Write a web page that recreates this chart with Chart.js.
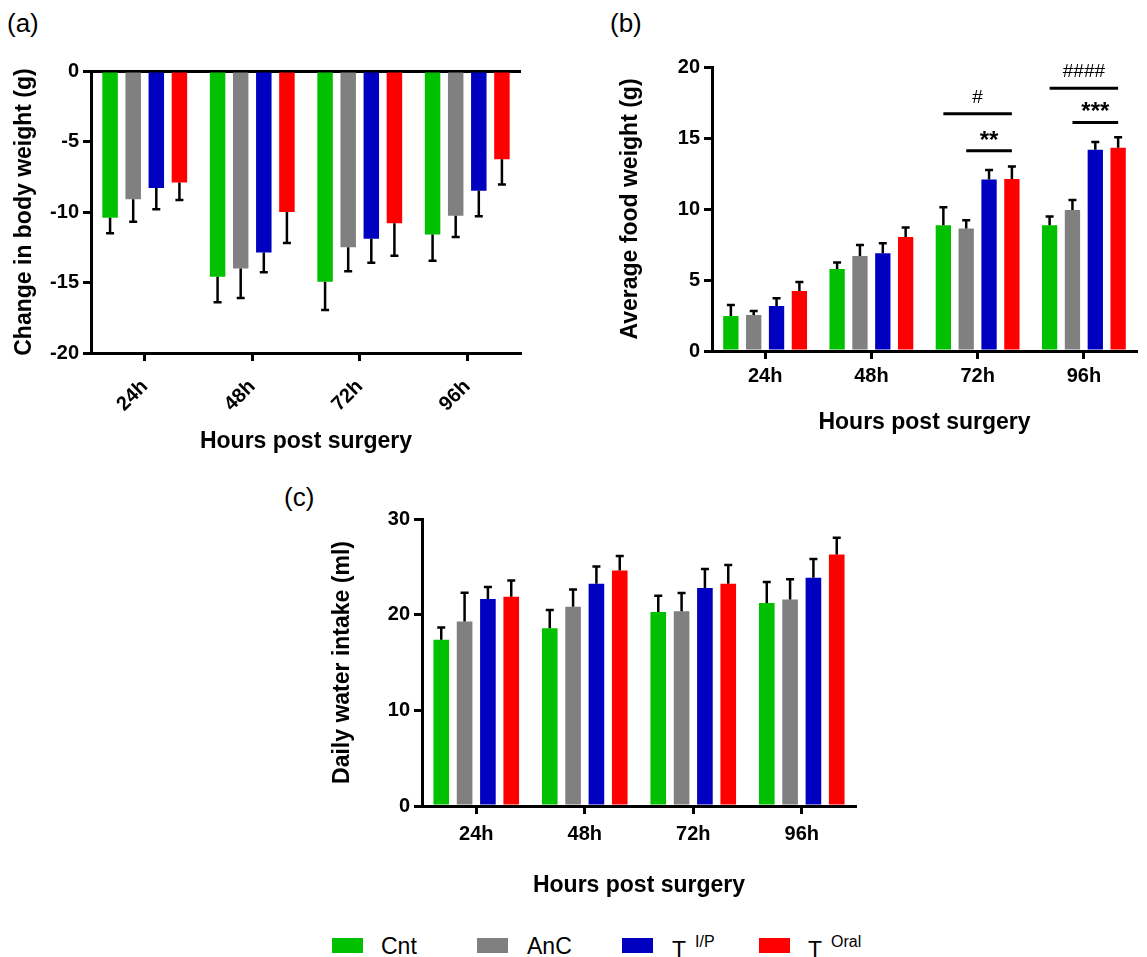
<!DOCTYPE html>
<html>
<head>
<meta charset="utf-8">
<script src="https://cdn.jsdelivr.net/npm/chart.js@4.4.1/dist/chart.umd.min.js"></script>
<style>
    body { margin: 0; background: #fff; }
    #page { position: relative; width: 1147px; height: 957px; overflow: hidden; background: #fff;
            font-family: 'Liberation Sans', Arial, sans-serif; color: #000; }
    canvas { position: absolute; }
    .panel-label { position: absolute; font-size: 26px; line-height: 26px; }
    .legend-box { position: absolute; width: 31px; height: 15px; }
    .legend-text { position: absolute; font-size: 23px; line-height: 23px; white-space: nowrap; }
    .legend-sup { position: absolute; font-size: 16px; line-height: 16px; white-space: nowrap; }
</style>
</head>
<body>
<div id="page">
    <div class="panel-label" style="left:7px; top:10px;">(a)</div>
    <div class="panel-label" style="left:610px; top:10px;">(b)</div>
    <div class="panel-label" style="left:284px; top:484px;">(c)</div>

    <canvas id="weight-chart" width="545" height="460" style="left:0; top:0;"></canvas>
    <canvas id="food-chart" width="547" height="440" style="left:600px; top:0;"></canvas>
    <canvas id="water-chart" width="596" height="432" style="left:280px; top:470px;"></canvas>

    <div id="legend"></div>
</div>

<script>
// categories and groups
const hours = ['24h', '48h', '72h', '96h'];
const groups = ['Cnt', 'AnC', 'T I/P', 'T Oral'];
const colors = ['#00c000', '#808080', '#0000c0', '#ff0000'];

// (a) change in body weight (g)
const weightCnt = [-10.4, -14.6, -14.95, -11.6];
const weightAnC = [-9.1, -14.0, -12.5, -10.27];
const weightTip = [-8.3, -12.87, -11.9, -8.5];
const weightToral = [-7.9, -10.0, -10.8, -6.25];
const weightCntErr = [1.1, 1.8, 2.0, 1.85];
const weightAnCErr = [1.6, 2.1, 1.7, 1.5];
const weightTipErr = [1.5, 1.4, 1.7, 1.8];
const weightToralErr = [1.25, 2.2, 2.3, 1.8];

// (b) average food weight (g)
const foodCnt = [2.46, 5.77, 8.85, 8.85];
const foodAnC = [2.54, 6.69, 8.62, 9.93];
const foodTip = [3.17, 6.88, 12.07, 14.18];
const foodToral = [4.23, 8.03, 12.11, 14.32];
const foodCntErr = [0.78, 0.47, 1.27, 0.63];
const foodAnCErr = [0.28, 0.77, 0.58, 0.7];
const foodTipErr = [0.54, 0.7, 0.68, 0.54];
const foodToralErr = [0.63, 0.66, 0.89, 0.73];

// significance marks on (b)
const sigLabels = ['#', '**', '####', '***'];
const sigHour = [2, 2, 3, 3];
const sigFrom = [0, 1, 0, 1];
const sigTo = [3, 3, 3, 3];
const sigLevel = [16.7, 14.1, 18.5, 16.1];

// (c) daily water intake (ml)
const waterCnt = [17.37, 18.59, 20.27, 21.21];
const waterAnC = [19.29, 20.82, 20.37, 21.59];
const waterTip = [21.63, 23.23, 22.78, 23.86];
const waterToral = [21.87, 24.62, 23.23, 26.3];
const waterCntErr = [1.3, 1.9, 1.7, 2.2];
const waterAnCErr = [3.0, 1.8, 1.9, 2.1];
const waterTipErr = [1.25, 1.8, 2.0, 1.95];
const waterToralErr = [1.7, 1.5, 1.95, 1.75];

Chart.defaults.font.family = "'Liberation Sans', Arial, sans-serif";
Chart.defaults.color = '#000';

const errorBars = {
    id: 'errorBars',
    afterDatasetsDraw(chart) {
        const ctx = chart.ctx;
        const yScale = chart.scales.y;
        ctx.save();
        ctx.strokeStyle = '#000';
        ctx.lineWidth = 2.5;
        chart.data.datasets.forEach((dataset, i) => {
            const meta = chart.getDatasetMeta(i);
            meta.data.forEach((bar, j) => {
                const value = dataset.data[j];
                const err = dataset.errors[j];
                const end = yScale.getPixelForValue(value + Math.sign(value) * err);
                ctx.beginPath();
                ctx.moveTo(bar.x, bar.y);
                ctx.lineTo(bar.x, end);
                ctx.moveTo(bar.x - 4, end);
                ctx.lineTo(bar.x + 4, end);
                ctx.stroke();
            });
        });
        ctx.restore();
    }
};

const significance = {
    id: 'significance',
    afterDraw(chart) {
        if (!chart.options.plugins.significance.show) {
            return;
        }
        const ctx = chart.ctx;
        const yScale = chart.scales.y;
        ctx.save();
        ctx.strokeStyle = '#000';
        ctx.fillStyle = '#000';
        ctx.lineWidth = 3;
        ctx.textAlign = 'center';
        ctx.textBaseline = 'alphabetic';
        sigLabels.forEach((label, k) => {
            const x1 = chart.getDatasetMeta(sigFrom[k]).data[sigHour[k]].x;
            const x2 = chart.getDatasetMeta(sigTo[k]).data[sigHour[k]].x;
            const y = yScale.getPixelForValue(sigLevel[k]);
            ctx.beginPath();
            ctx.moveTo(x1, y);
            ctx.lineTo(x2, y);
            ctx.stroke();
            const isHash = label.startsWith('#');
            ctx.font = isHash ? "19px 'Liberation Sans', Arial, sans-serif"
                              : "bold 24px 'Liberation Sans', Arial, sans-serif";
            ctx.fillText(label, (x1 + x2) / 2, y - (isHash ? 11 : 3));
        });
        ctx.restore();
    }
};

function buildPanel(canvasId, opts) {
    const canvas = document.getElementById(canvasId);
    const g = opts.geometry;
    return new Chart(canvas, {
        type: 'bar',
        data: {
            labels: hours,
            datasets: opts.values.map((values, i) => ({
                label: groups[i],
                data: values,
                errors: opts.errors[i],
                backgroundColor: colors[i],
                borderWidth: 0,
                barPercentage: 0.67,
                categoryPercentage: 0.86
            }))
        },
        options: {
            responsive: false,
            animation: false,
            layout: {
                padding: { top: g.padTop, right: g.padRight, left: 0, bottom: 0 }
            },
            plugins: {
                legend: { display: false },
                tooltip: { enabled: false },
                significance: { show: !!opts.showSignificance }
            },
            scales: {
                x: {
                    grid: {
                        display: true,
                        drawOnChartArea: false,
                        offset: false,
                        tickLength: 8,
                        tickWidth: 3,
                        tickColor: '#000'
                    },
                    border: { display: true, color: '#000', width: 3 },
                    ticks: {
                        color: '#000',
                        font: { size: 20, weight: 'bold' },
                        padding: g.xTickPad,
                        minRotation: opts.rotation,
                        maxRotation: opts.rotation
                    },
                    title: {
                        display: true,
                        text: 'Hours post surgery',
                        color: '#000',
                        font: { size: 23, weight: 'bold' },
                        padding: { top: 0, bottom: g.xTitlePad }
                    },
                    afterFit: scale => { scale.height = g.xAxisHeight; }
                },
                y: {
                    min: opts.yMin,
                    max: opts.yMax,
                    grid: {
                        drawOnChartArea: true,
                        color: ctx => (ctx.tick && ctx.tick.value === 0 ? '#000' : 'rgba(0,0,0,0)'),
                        lineWidth: 3,
                        tickLength: 8,
                        tickWidth: 3,
                        tickColor: '#000'
                    },
                    border: { display: true, color: '#000', width: 3 },
                    ticks: {
                        stepSize: opts.yStep,
                        color: '#000',
                        font: { size: 20, weight: 'bold' },
                        padding: 4
                    },
                    title: {
                        display: true,
                        text: opts.yTitle,
                        color: '#000',
                        font: { size: 23, weight: 'bold' },
                        padding: { top: g.yTitlePad, bottom: 0 }
                    },
                    afterFit: scale => { scale.width = g.yAxisWidth; }
                }
            }
        },
        plugins: [errorBars, significance]
    });
}

buildPanel('weight-chart', {
    values: [weightCnt, weightAnC, weightTip, weightToral],
    errors: [weightCntErr, weightAnCErr, weightTipErr, weightToralErr],
    yMin: -20, yMax: 0, yStep: 5,
    yTitle: 'Change in body weight (g)',
    rotation: 45,
    geometry: { padTop: 71, padRight: 24, yAxisWidth: 91, xAxisHeight: 107, yTitlePad: 11, xTitlePad: 5, xTickPad: 14 }
});

buildPanel('food-chart', {
    values: [foodCnt, foodAnC, foodTip, foodToral],
    errors: [foodCntErr, foodAnCErr, foodTipErr, foodToralErr],
    yMin: 0, yMax: 20, yStep: 5,
    yTitle: 'Average food weight (g)',
    rotation: 0,
    showSignificance: true,
    geometry: { padTop: 67, padRight: 10, yAxisWidth: 112, xAxisHeight: 89, yTitlePad: 17, xTitlePad: 4, xTickPad: 5 }
});

buildPanel('water-chart', {
    values: [waterCnt, waterAnC, waterTip, waterToral],
    errors: [waterCntErr, waterAnCErr, waterTipErr, waterToralErr],
    yMin: 0, yMax: 30, yStep: 10,
    yTitle: 'Daily water intake (ml)',
    rotation: 0,
    geometry: { padTop: 49, padRight: 20, yAxisWidth: 142, xAxisHeight: 96, yTitlePad: 49, xTitlePad: 3, xTickPad: 8 }
});

// legend below the panels (HTML so the superscripts can be kept)
const legendBoxLeft = [332, 477, 622, 759];
const legendTextLeft = [381, 527, 672, 808];
const legendMain = ['Cnt', 'AnC', 'T', 'T'];
const legendSup = ['', '', 'I/P', 'Oral'];
const legendEl = document.getElementById('legend');
legendMain.forEach((text, i) => {
    const box = document.createElement('div');
    box.className = 'legend-box';
    box.style.left = legendBoxLeft[i] + 'px';
    box.style.top = '938px';
    box.style.background = colors[i];
    legendEl.appendChild(box);

    const label = document.createElement('div');
    label.className = 'legend-text';
    label.style.left = legendTextLeft[i] + 'px';
    label.style.top = (legendSup[i] ? 939 : 935) + 'px';
    label.textContent = text;
    legendEl.appendChild(label);

    if (legendSup[i]) {
        const sup = document.createElement('div');
        sup.className = 'legend-sup';
        sup.style.left = (legendTextLeft[i] + 23) + 'px';
        sup.style.top = '934px';
        sup.textContent = legendSup[i];
        legendEl.appendChild(sup);
    }
});
</script>
</body>
</html>
